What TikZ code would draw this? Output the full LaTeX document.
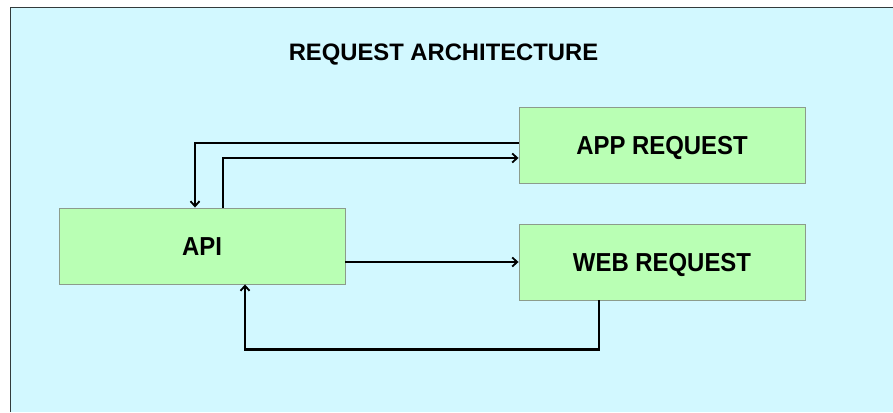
\documentclass[tikz,border=0pt]{standalone}
\usepackage{fontspec}
\setmainfont{Liberation Sans}
\newfontfamily\boxfont[FakeStretch=0.92]{Liberation Sans}
\usetikzlibrary{arrows.meta}
\definecolor{canvas}{HTML}{D2F8FF}
\definecolor{boxfill}{HTML}{B9FFB4}
\definecolor{boxline}{HTML}{8C9C8C}
\definecolor{frameline}{HTML}{333B3B}
\tikzset{
  x=1pt, y=1pt,
  block/.style={draw=boxline, line width=0.9pt, fill=boxfill,
    minimum width=286pt, minimum height=76pt, inner sep=0pt,
    text height=18.6pt, text depth=0pt,
    font=\boxfont\fontsize{26}{30}\selectfont\bfseries},
  conn/.style={draw=black, line width=2.2pt,
    -{Straight Barb[length=5pt,width=9pt,line width=1.8pt]}},
  heading/.style={font=\fontsize{23.8}{28}\selectfont\bfseries, inner sep=0pt,
    text height=17pt, text depth=0pt}
}
\begin{document}
\begin{tikzpicture}
  % canvas and frame
  \useasboundingbox (0,0) rectangle (893,412);
  \fill[white] (0,0) rectangle (893,412);
  \fill[canvas] (10.5,0) rectangle (893,404.5);
  \draw[frameline, line width=1pt] (10.5,0) -- (10.5,404.5) -- (893,404.5);

  % title
  \node[heading] (title) at (443.5,359.5) {REQUEST ARCHITECTURE};

  % blocks
  \node[block] (api) at (202,166) {API};
  \node[block] (app) at (662,267) {APP REQUEST};
  \node[block] (web) at (662,150) {WEB REQUEST};

  % connectors
  \draw[conn] ([yshift=2pt]app.west) -| ([xshift=-7pt]api.north);
  \draw[conn] ([xshift=21pt]api.north) |- ([yshift=-13pt]app.west);
  \draw[conn] (api.east |- web.west) -- (web.west);
  \draw[conn] ([xshift=-63pt]web.south) -- ++(0,-49) -| ([xshift=43pt]api.south);
\end{tikzpicture}
\end{document}
